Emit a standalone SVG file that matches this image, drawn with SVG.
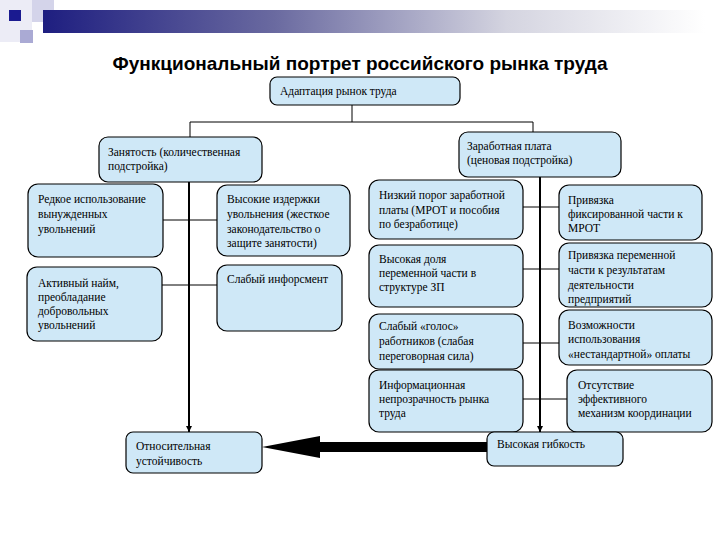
<svg xmlns="http://www.w3.org/2000/svg" width="720" height="540" viewBox="0 0 720 540">
<defs>
<linearGradient id="bar" x1="0" y1="0" x2="1" y2="0">
<stop offset="0" stop-color="#1e1e80"/>
<stop offset="0.35" stop-color="#6a6aa0"/>
<stop offset="0.7" stop-color="#d4d4e0"/>
<stop offset="1" stop-color="#ffffff"/>
</linearGradient>
<marker id="ah" viewBox="0 0 10 10" refX="10" refY="5" markerWidth="6" markerHeight="6" orient="auto" markerUnits="userSpaceOnUse">
<path d="M0,0 L10,5 L0,10 z" fill="#000"/>
</marker>
<style>
.box{fill:#cfe8f7;stroke:#000;stroke-width:1.2}
.t{font-family:"Liberation Serif","DejaVu Serif",serif;font-size:11.5px;fill:#000}
.ln{stroke:#000;stroke-width:1;fill:none}
.main{stroke:#000;stroke-width:2;fill:none}
.title{font-family:"Liberation Sans",Arial,sans-serif;font-size:19px;font-weight:bold;fill:#000}
</style>
</defs>
<rect width="720" height="540" fill="#fff"/>
<g id="header">
<rect x="0" y="0" width="32" height="42" fill="#ececf6"/>
<rect x="32" y="0" width="22" height="22" fill="#d4d4ea"/>
<rect x="43" y="10" width="662" height="23" fill="url(#bar)"/>
<rect x="20" y="30" width="13" height="13" fill="#aaaad4"/>
<rect x="9" y="10" width="12" height="11" fill="#1a1a90"/>
</g>
<text class="title" x="360" y="70" text-anchor="middle">Функциональный портрет российского рынка труда</text>
<g id="connectors">
<path class="ln" d="M352,105 V122 M190,122 H533 M190,122 V137 M533,122 V132"/>
<path class="main" d="M189,182 V432" marker-end="url(#ah)"/>
<path class="main" d="M540,177 V432" marker-end="url(#ah)"/>
<path class="ln" d="M163,220 H217 M162,285 H217 M523,207 H559 M523,269 H559 M523,343 H559 M523,399 H567"/>
<polygon points="487,442 320,442 320,436 262,447 320,458 320,452 487,452" fill="#000"/>
</g>
<g id="n-adapt"><rect class="box" x="270" y="77" width="190" height="28" rx="7"/><text class="t" x="280" y="95">Адаптация рынок труда</text></g>
<g id="n-zan"><rect class="box" x="99" y="137" width="163" height="45" rx="9"/><text class="t" x="108" y="156">Занятость (количественная</text><text class="t" x="108" y="170">подстройка)</text></g>
<g id="n-redk"><rect class="box" x="28" y="184" width="135" height="73" rx="10"/><text class="t" x="38" y="203">Редкое использование</text><text class="t" x="38" y="218">вынужденных</text><text class="t" x="38" y="233">увольнений</text></g>
<g id="n-vys"><rect class="box" x="217" y="185" width="133" height="71" rx="10"/><text class="t" x="227" y="203">Высокие издержки</text><text class="t" x="227" y="218">увольнения (жесткое</text><text class="t" x="227" y="233">законодательство о</text><text class="t" x="227" y="247">защите занятости)</text></g>
<g id="n-akt"><rect class="box" x="27" y="267" width="135" height="74" rx="10"/><text class="t" x="38" y="287">Активный найм,</text><text class="t" x="38" y="301">преобладание</text><text class="t" x="38" y="315">добровольных</text><text class="t" x="38" y="329">увольнений</text></g>
<g id="n-inf"><rect class="box" x="217" y="265" width="125" height="66" rx="10"/><text class="t" x="227" y="283">Слабый инфорсмент</text></g>
<g id="n-zar"><rect class="box" x="459" y="132" width="162" height="45" rx="9"/><text class="t" x="467" y="150">Заработная плата</text><text class="t" x="467" y="164">(ценовая подстройка)</text></g>
<g id="n-niz"><rect class="box" x="369" y="180" width="154" height="59" rx="10"/><text class="t" x="379" y="199">Низкий порог заработной</text><text class="t" x="379" y="214">платы (МРОТ и пособия</text><text class="t" x="379" y="228">по безработице)</text></g>
<g id="n-pfix"><rect class="box" x="559" y="185" width="143" height="55" rx="10"/><text class="t" x="568" y="204">Привязка</text><text class="t" x="568" y="218">фиксированной части к</text><text class="t" x="568" y="232">МРОТ</text></g>
<g id="n-dol"><rect class="box" x="369" y="245" width="154" height="62" rx="10"/><text class="t" x="379" y="263">Высокая доля</text><text class="t" x="379" y="277">переменной части в</text><text class="t" x="379" y="291">структуре ЗП</text></g>
<g id="n-pper"><rect class="box" x="559" y="243" width="153" height="64" rx="10"/><text class="t" x="568" y="259">Привязка переменной</text><text class="t" x="568" y="274">части к результатам</text><text class="t" x="568" y="289">деятельности</text><text class="t" x="568" y="303">предприятий</text></g>
<g id="n-gol"><rect class="box" x="369" y="314" width="154" height="55" rx="10"/><text class="t" x="379" y="330">Слабый «голос»</text><text class="t" x="379" y="345">работников (слабая</text><text class="t" x="379" y="360">переговорная сила)</text></g>
<g id="n-voz"><rect class="box" x="559" y="310" width="153" height="55" rx="10"/><text class="t" x="568" y="329">Возможности</text><text class="t" x="568" y="343">использования</text><text class="t" x="568" y="358">«нестандартной» оплаты</text></g>
<g id="n-info"><rect class="box" x="369" y="370" width="154" height="62" rx="10"/><text class="t" x="379" y="389">Информационная</text><text class="t" x="379" y="403">непрозрачность рынка</text><text class="t" x="379" y="417">труда</text></g>
<g id="n-ots"><rect class="box" x="567" y="370" width="145" height="62" rx="10"/><text class="t" x="578" y="389">Отсутствие</text><text class="t" x="578" y="403">эффективного</text><text class="t" x="578" y="417">механизм координации</text></g>
<g id="n-gib"><rect class="box" x="487" y="432" width="136" height="34" rx="7"/><text class="t" x="497" y="448">Высокая гибкость</text></g>
<g id="n-ust"><rect class="box" x="126" y="432" width="136" height="41" rx="7"/><text class="t" x="136" y="450">Относительная</text><text class="t" x="136" y="465">устойчивость</text></g>
</svg>
